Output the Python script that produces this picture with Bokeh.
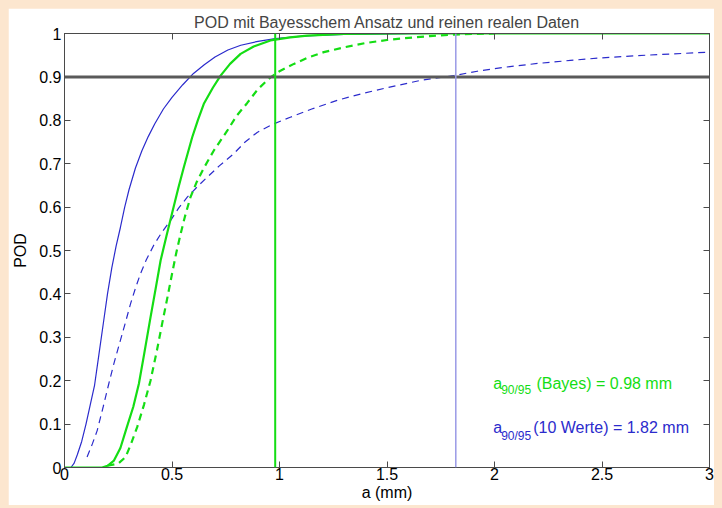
from bokeh.plotting import figure
from bokeh.models import Span, Label, LinearAxis, FixedTicker, CustomJSTickFormatter, Range1d
from bokeh.embed import file_html
from bokeh.resources import INLINE

# ---- data ----
x_ticks = [0, 0.5, 1, 1.5, 2, 2.5, 3]
y_ticks = [0, 0.1, 0.2, 0.3, 0.4, 0.5, 0.6, 0.7, 0.8, 0.9, 1.0]

blue_solid_a = [0, 0.03, 0.045, 0.06, 0.08, 0.10, 0.12, 0.14, 0.16, 0.18, 0.20, 0.22, 0.24,
                0.26, 0.28, 0.30, 0.33, 0.36, 0.39, 0.42, 0.46, 0.50, 0.55, 0.60, 0.65, 0.70,
                0.76, 0.82, 0.90, 0.98, 1.06, 1.15, 1.3, 1.5, 1.7, 1.85]
blue_solid_pod = [0, 0, 0.01, 0.03, 0.06, 0.10, 0.145, 0.19, 0.26, 0.33, 0.40, 0.46, 0.51,
                  0.553, 0.60, 0.64, 0.69, 0.73, 0.763, 0.792, 0.826, 0.853, 0.882, 0.908, 0.928, 0.946,
                  0.962, 0.973, 0.982, 0.988, 0.992, 0.995, 0.998, 0.999, 1.0, 1.0]

blue_dash_a = [0.105, 0.13, 0.152, 0.18, 0.206, 0.23, 0.26, 0.285, 0.307, 0.33, 0.353, 0.38,
               0.415, 0.45, 0.493, 0.53, 0.571, 0.62, 0.664, 0.72, 0.787, 0.84, 0.896, 0.96,
               1.05, 1.15, 1.268, 1.38, 1.5, 1.656, 1.81, 1.92, 2.043, 2.2, 2.353, 2.5, 2.664,
               2.83, 3.0]
blue_dash_pod = [0.024, 0.055, 0.085, 0.14, 0.193, 0.24, 0.293, 0.337, 0.377, 0.413, 0.446, 0.478,
                 0.512, 0.54, 0.569, 0.597, 0.623, 0.648, 0.669, 0.695, 0.723, 0.75, 0.772, 0.789,
                 0.807, 0.826, 0.846, 0.861, 0.875, 0.892, 0.903, 0.913, 0.922, 0.931, 0.938, 0.944, 0.949,
                 0.953, 0.957]

green_solid_a = [0, 0.175, 0.2, 0.23, 0.26, 0.29, 0.32, 0.346, 0.37, 0.40, 0.425, 0.447, 0.475,
                 0.50, 0.53, 0.555, 0.594, 0.62, 0.648, 0.69, 0.726, 0.77, 0.819, 0.88, 0.958,
                 1.05, 1.129, 1.3, 1.6, 3.0]
green_solid_pod = [0, 0, 0.004, 0.016, 0.045, 0.093, 0.14, 0.193, 0.26, 0.346, 0.415, 0.477, 0.535,
                   0.585, 0.645, 0.692, 0.761, 0.80, 0.838, 0.875, 0.903, 0.93, 0.953, 0.97, 0.984,
                   0.991, 0.995, 0.999, 1.0, 1.0]

green_dash_a = [0.2, 0.25, 0.284, 0.31, 0.338, 0.37, 0.40, 0.43, 0.454, 0.48, 0.50, 0.52, 0.54,
                0.56, 0.586, 0.615, 0.648, 0.694, 0.757, 0.80, 0.85, 0.90, 0.958, 1.0, 1.067,
                1.13, 1.206, 1.3, 1.4, 1.5, 1.6, 1.7, 1.8, 1.9, 2.0]
green_dash_pod = [0.004, 0.009, 0.024, 0.055, 0.093, 0.145, 0.20, 0.27, 0.331, 0.395, 0.446, 0.495, 0.538,
                  0.578, 0.623, 0.658, 0.69, 0.73, 0.776, 0.81, 0.84, 0.872, 0.899, 0.913, 0.930,
                  0.944, 0.957, 0.968, 0.978, 0.985, 0.99, 0.994, 0.997, 0.999, 1.0]

pod_level = 0.9
a90_bayes = 0.98
a90_werte = 1.82

FONT = "Liberation Sans"
BLUE = "#2b2bcc"
GREEN = "#14dd14"
AXC = "#4a4a4a"

p = figure(width=706, height=497, output_backend="svg", toolbar_location=None,
           x_range=Range1d(0, 3), y_range=Range1d(0, 1),
           min_border_left=56, min_border_right=5, min_border_top=25, min_border_bottom=38,
           title="POD mit Bayesschem Ansatz und reinen realen Daten")
p.background_fill_color = "white"
p.border_fill_color = "white"
p.outline_line_color = AXC
p.outline_line_width = 1
p.grid.visible = False

p.title.text_font = FONT
p.title.text_font_size = "16px"
p.title.text_font_style = "normal"
p.title.align = "center"
p.title.standoff = 6

fmt = CustomJSTickFormatter(code="return tick.toString();")
blank = CustomJSTickFormatter(code="return '';")

for ax, ticks in ((p.xaxis[0], x_ticks), (p.yaxis[0], y_ticks)):
    ax.ticker = FixedTicker(ticks=ticks)
    ax.formatter = fmt
    ax.major_tick_in = 6
    ax.major_tick_out = 0
    ax.minor_tick_line_color = None
    ax.axis_line_color = AXC
    ax.major_tick_line_color = AXC
    ax.major_label_text_font = FONT
    ax.major_label_text_font_size = "16px"
    ax.major_label_text_color = "black"
    ax.axis_label_text_font = FONT
    ax.axis_label_text_font_size = "16px"
    ax.axis_label_text_font_style = "normal"
    ax.axis_label_text_color = "black"

p.xaxis.axis_label = "a (mm)"
p.xaxis.major_label_standoff = 0
p.xaxis.axis_label_standoff = 1
p.yaxis.axis_label = "POD"
p.yaxis.major_label_standoff = 3
p.yaxis.axis_label_standoff = 7

for loc, ticks in (("right", y_ticks), ("above", x_ticks)):
    ax = LinearAxis(ticker=FixedTicker(ticks=ticks), formatter=blank,
                    major_tick_in=6, major_tick_out=0, major_label_standoff=0,
                    minor_tick_line_color=None, axis_line_color=AXC,
                    major_tick_line_color=AXC, major_label_text_font_size="1px")
    p.add_layout(ax, loc)

# curves
p.line(blue_dash_a, blue_dash_pod, line_color=BLUE, line_width=1.2, line_dash="7 5")
p.line(blue_solid_a, blue_solid_pod, line_color=BLUE, line_width=1.2)
p.line(green_dash_a, green_dash_pod, line_color=GREEN, line_width=2.2, line_dash="7 5")
p.line(green_solid_a, green_solid_pod, line_color=GREEN, line_width=2.2)

# reference lines
p.add_layout(Span(location=pod_level, dimension="width", line_color="#5a5a5a", line_width=3))
p.add_layout(Span(location=a90_bayes, dimension="height", line_color=GREEN, line_width=2))
p.add_layout(Span(location=a90_werte, dimension="height", line_color="#9a9ae6", line_width=1.5))

# annotations
def add_text(x, y, text, color, size):
    p.add_layout(Label(x=x, y=y, text=text, text_color=color, text_font=FONT,
                       text_font_size=size, text_baseline="alphabetic", text_align="left"))

add_text(1.994, 0.1947, "a", GREEN, "16px")
add_text(2.031, 0.1786, "90/95", GREEN, "12px")
add_text(2.195, 0.1947, "(Bayes) = %.2f mm" % a90_bayes, GREEN, "16px")

add_text(1.994, 0.0922, "a", BLUE, "16px")
add_text(2.031, 0.0737, "90/95", BLUE, "12px")
add_text(2.18, 0.0922, "(10 Werte) = %.2f mm" % a90_werte, BLUE, "16px")

html = file_html(p, INLINE)
style = "<style>html, body { background: #fce6cf !important; } body { padding: 8px !important; }</style>"
i = html.rfind("</head>")
html = html[:i] + style + html[i:]
open("out.html", "w").write(html)
